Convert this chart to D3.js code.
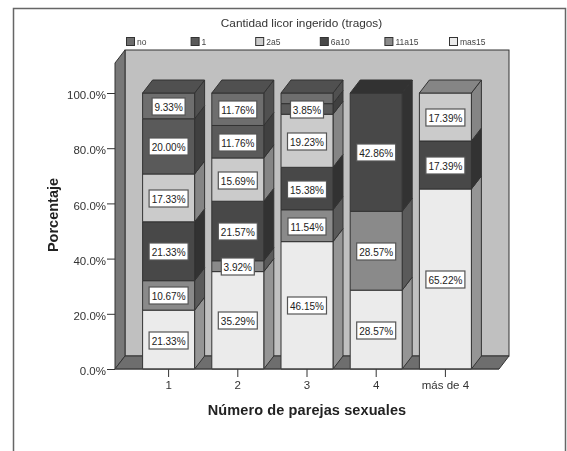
<!DOCTYPE html>
<html>
<head>
<meta charset="utf-8">
<script src="https://cdn.jsdelivr.net/npm/d3@7"></script>
<style>
html,body{margin:0;padding:0;background:#fff;}
svg{display:block;filter:blur(0.35px);}
text{font-family:"Liberation Sans",Arial,sans-serif;}
</style>
</head>
<body>
<svg id="c" width="567" height="451"></svg>
<script>
const categories = ["1","2","3","4","más de 4"];
const seriesNames = ["mas15","11a15","6a10","2a5","1","no"];
const legendOrder = ["no","1","2a5","6a10","11a15","mas15"];
const mas15 = [21.33,35.29,46.15,28.57,65.22];
const s11a15 = [10.67,3.92,11.54,28.57,0];
const s6a10 = [21.33,21.57,15.38,42.86,17.39];
const s2a5 = [17.33,15.69,19.23,0,17.39];
const s1 = [20.00,11.76,3.85,0,0];
const sNo = [9.33,11.76,3.85,0,0];
const yTicks = [0,20,40,60,80,100];
const hiddenLabels = ["3|no"];
const frontColors = {"no":"#6e6e6e","1":"#5a5a5a","2a5":"#cbcbcb","6a10":"#484848","11a15":"#8a8a8a","mas15":"#ebebeb"};
const sideColors = {"no":"#505050","1":"#404040","2a5":"#858585","6a10":"#323232","11a15":"#5a5a5a","mas15":"#959595"};

const rows = categories.map((c,i)=>({cat:c,"mas15":mas15[i],"11a15":s11a15[i],"6a10":s6a10[i],"2a5":s2a5[i],"1":s1[i],"no":sNo[i]}));
const stacked = d3.stack().keys(seriesNames)(rows);

const svg = d3.select("#c");
const line = "#333", depthX = 10, depthY = 13, barW = 52;
const y = d3.scaleLinear().domain([0,100]).range([369,93]);
const x = d3.scaleBand().domain(categories).range([134,480]);
const left = 115, right = 499;
const cx = d => x(d)+x.bandwidth()/2;
const poly = pts => pts.map(p=>p.join(",")).join(" ");

// frame
svg.append("path").attr("d","M13.5,451V8.5H565.5V451").attr("fill","none").attr("stroke","#666").attr("stroke-width",1.5);

// walls
const wallTop = y(100)-43, wallFrontTop = wallTop+depthY;
svg.append("rect").attr("x",left+depthX).attr("y",wallTop).attr("width",right-left).attr("height",y(0)-depthY-wallTop)
  .attr("fill","#c0c0c0").attr("stroke",line).attr("stroke-width",1);
svg.append("polygon").attr("points",poly([[left+depthX,wallTop],[left+depthX,y(0)-depthY],[left,y(0)],[left,wallFrontTop]]))
  .attr("fill","#787878").attr("stroke",line);
svg.append("polygon").attr("points",poly([[left,y(0)],[left+depthX,y(0)-depthY],[right+depthX,y(0)-depthY],[right,y(0)]]))
  .attr("fill","#6e6e6e").attr("stroke",line);

// bars
const bars = [];
stacked.forEach(s=>{
  s.forEach((d,i)=>{
    if(d[1]-d[0]>0) bars.push({key:s.key,cat:categories[i],v0:d[0],v1:d[1],val:d[1]-d[0],idx:i});
  });
});
const topOf = {};
bars.forEach(b=>{ if(!topOf[b.cat]||b.v1>=topOf[b.cat].v1) topOf[b.cat]=b; });

const gBars = svg.append("g").attr("stroke",line).attr("stroke-width",1).attr("stroke-linejoin","round");
bars.forEach(b=>{
  const x0 = cx(b.cat)-barW/2, x1 = x0+barW, yb = y(b.v0), yt = y(b.v1);
  gBars.append("polygon").attr("points",poly([[x1,yb],[x1+depthX,yb-depthY],[x1+depthX,yt-depthY],[x1,yt]])).attr("fill",sideColors[b.key]);
  gBars.append("rect").attr("x",x0).attr("y",yt).attr("width",barW).attr("height",yb-yt).attr("fill",frontColors[b.key]);
});
categories.forEach(c=>{
  const b = topOf[c], x0 = cx(c)-barW/2, x1 = x0+barW, yt = y(b.v1);
  gBars.append("polygon").attr("points",poly([[x0,yt],[x0+depthX,yt-depthY],[x1+depthX,yt-depthY],[x1,yt]])).attr("fill",sideColors[b.key]);
});

// value labels
const gLab = svg.append("g");
bars.forEach(b=>{
  if(hiddenLabels.includes((categories.indexOf(b.cat)+1)+"|"+b.key)) return;
  const g = gLab.append("g").attr("transform",`translate(${cx(b.cat)},${Math.round(y((b.v0+b.v1)/2))+0.5})`);
  const t = g.append("text").attr("text-anchor","middle").attr("y",4).attr("font-size",11).attr("fill","#222").text(b.val.toFixed(2)+"%");
  const tw = t.node().getComputedTextLength()*0.91;
  t.attr("textLength",tw).attr("lengthAdjust","spacingAndGlyphs");
  const w = Math.round(tw)+5;
  g.insert("rect","text").attr("x",-w/2).attr("y",-8.5).attr("width",w).attr("height",17).attr("fill","#fff").attr("stroke","#555").attr("stroke-width",1.2);
});

// axes
const ay = svg.append("g").attr("transform",`translate(${left},0)`)
  .call(d3.axisLeft(y).tickValues(yTicks).tickSize(8).tickPadding(1).tickFormat(d=>d.toFixed(1)+"%"));
ay.select(".domain").remove();
ay.selectAll("line").attr("stroke","#333");
ay.selectAll("text").attr("font-size",11.5).attr("dy","0.5em").attr("fill","#333").attr("font-family",'"Liberation Sans",Arial,sans-serif');

const ax = svg.append("g").attr("transform",`translate(0,${y(0)})`)
  .call(d3.axisBottom(x).tickSize(8).tickPadding(4));
ax.select(".domain").remove();
ax.selectAll("line").attr("stroke","#333");
ax.selectAll("text").attr("font-size",11.5).attr("fill","#333").attr("font-family",'"Liberation Sans",Arial,sans-serif');
svg.append("line").attr("x1",left).attr("x2",right).attr("y1",y(0)).attr("y2",y(0)).attr("stroke","#444");

// titles
svg.append("text").attr("x",301.5).attr("y",27).attr("text-anchor","middle").attr("font-size",11.8).attr("fill","#333").text("Cantidad licor ingerido (tragos)");
svg.append("text").attr("x",307).attr("y",415).attr("text-anchor","middle").attr("font-size",14.5).attr("font-weight","bold").attr("letter-spacing",0.1).attr("fill","#222").text("Número de parejas sexuales");
svg.append("text").attr("transform","translate(57.5,215) rotate(-90)").attr("text-anchor","middle").attr("font-size",14.5).attr("font-weight","bold").attr("fill","#222").text("Porcentaje");

// legend
const legendScale = d3.scalePoint().domain(legendOrder).range([126,449]);
const lg = svg.append("g");
legendOrder.forEach(k=>{
  const lx = legendScale(k);
  lg.append("rect").attr("x",lx+.5).attr("y",37.5).attr("width",8).attr("height",8).attr("fill",frontColors[k]).attr("stroke","#333");
  lg.append("text").attr("x",lx+11).attr("y",44.5).attr("font-size",8.5).attr("fill","#444").text(k);
});
</script>
</body>
</html>
